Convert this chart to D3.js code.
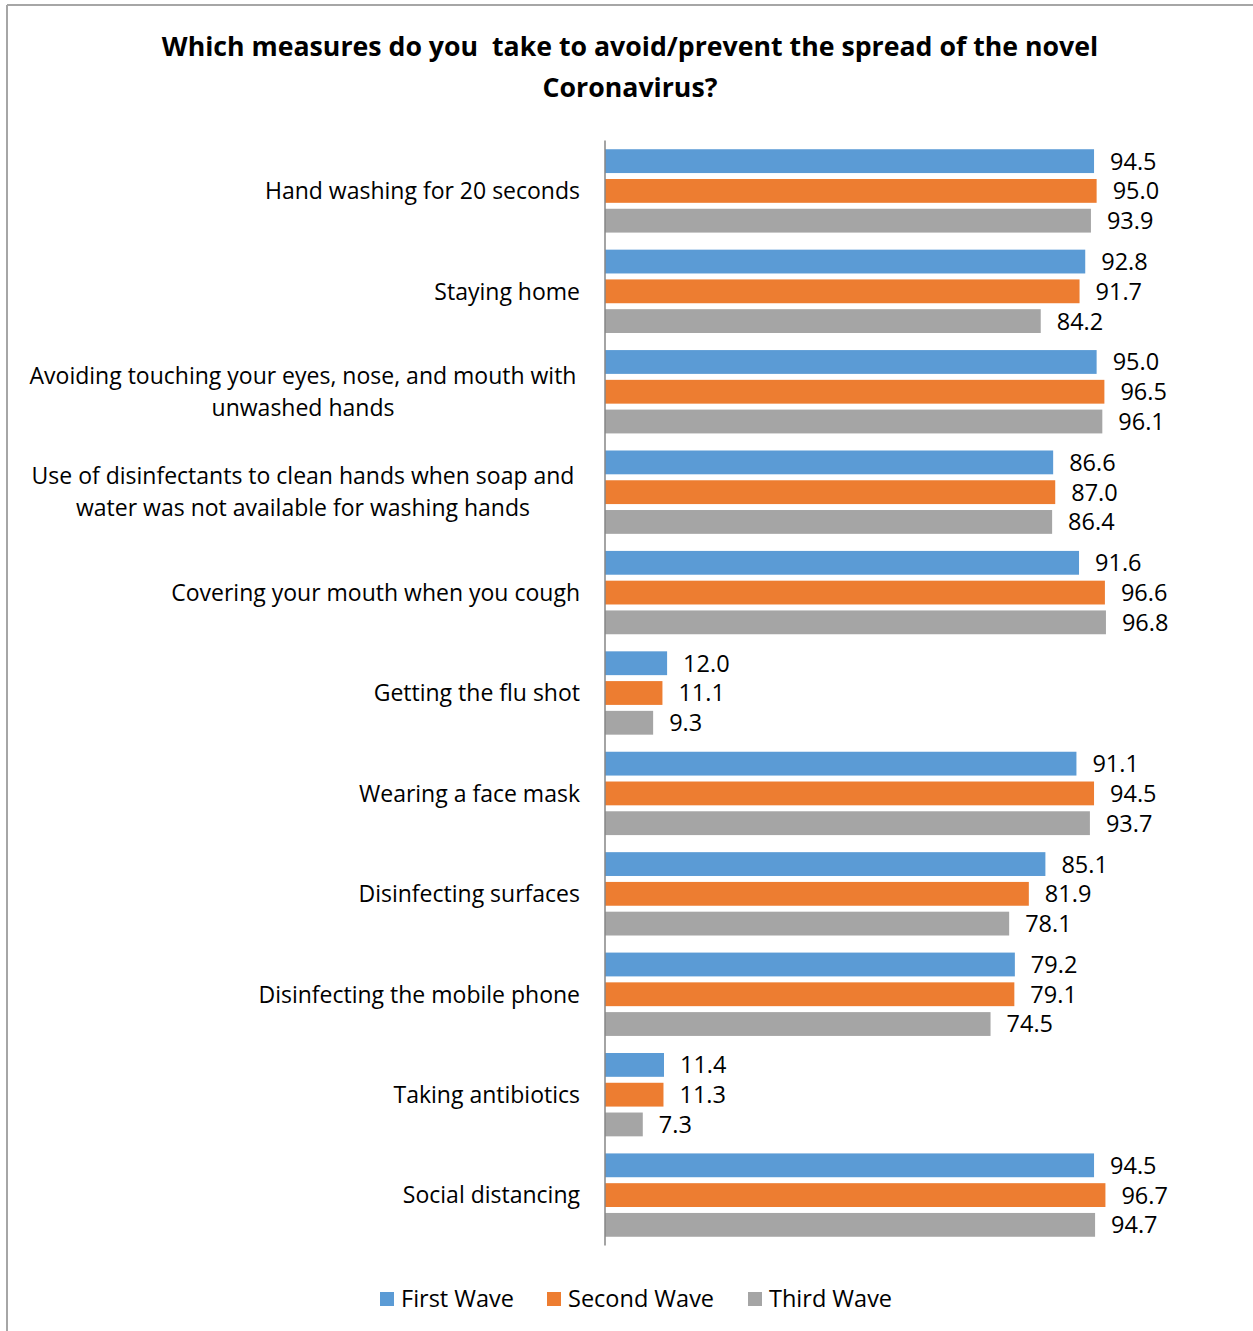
<!DOCTYPE html>
<html>
<head>
<meta charset="utf-8">
<script src="https://cdn.jsdelivr.net/npm/d3@7/dist/d3.min.js"></script>
<style>
  html, body { margin: 0; padding: 0; background: #fff; }
  svg { display: block; }
</style>
</head>
<body>
<svg id="chart" width="1253" height="1331"></svg>
<script>
// Survey measures, one group of three waves per measure
const categories = [
  ["Hand washing for 20 seconds"],
  ["Staying home"],
  ["Avoiding touching your eyes, nose, and mouth with", "unwashed hands"],
  ["Use of disinfectants to clean hands when soap and", "water was not available for washing hands"],
  ["Covering your mouth when you cough"],
  ["Getting the flu shot"],
  ["Wearing a face mask"],
  ["Disinfecting surfaces"],
  ["Disinfecting the mobile phone"],
  ["Taking antibiotics"],
  ["Social distancing"]
];
const seriesNames = ["First Wave", "Second Wave", "Third Wave"];
const firstWave  = [94.5, 92.8, 95.0, 86.6, 91.6, 12.0, 91.1, 85.1, 79.2, 11.4, 94.5];
const secondWave = [95.0, 91.7, 96.5, 87.0, 96.6, 11.1, 94.5, 81.9, 79.1, 11.3, 96.7];
const thirdWave  = [93.9, 84.2, 96.1, 86.4, 96.8, 9.3, 93.7, 78.1, 74.5, 7.3, 94.7];
const titleLines = ["Which measures do you  take to avoid/prevent the spread of the novel", "Coronavirus?"];

const colors = ["#5B9BD5", "#ED7D31", "#A5A5A5"];
const series = [firstWave, secondWave, thirdWave];
const font = "'Open Sans', 'Noto Sans', sans-serif";

const svg = d3.select("#chart");

// outer frame (top and left edges visible)
svg.append("line").attr("x1", 7).attr("x2", 1253).attr("y1", 5).attr("y2", 5)
  .attr("stroke", "#a6a6a6").attr("stroke-width", 2);
svg.append("line").attr("x1", 7).attr("x2", 7).attr("y1", 5).attr("y2", 1331)
  .attr("stroke", "#a6a6a6").attr("stroke-width", 2);

// title
const title = svg.append("text")
  .attr("text-anchor", "middle")
  .attr("font-family", font)
  .attr("font-weight", "bold")
  .attr("font-size", 26.7)
  .attr("fill", "#000")
  .style("white-space", "pre");
titleLines.forEach((t, i) => {
  title.append("tspan").attr("x", 630).attr("y", 56 + i * 41).text(t);
});

const x0 = 605;
const x = d3.scaleLinear().domain([0, 100]).range([x0, x0 + 517.5]);
const y = d3.scaleBand().domain(d3.range(categories.length)).range([140.5, 1245.5]).paddingInner(0.17).paddingOuter(0.087);
const yInner = d3.scaleBand().domain(d3.range(3)).range([0, y.bandwidth()]).paddingInner(0.2);

const groups = svg.append("g").selectAll("g")
  .data(categories)
  .join("g")
  .attr("transform", (d, i) => `translate(0,${y(i)})`);

groups.each(function(cat, i) {
  const g = d3.select(this);
  series.forEach((s, k) => {
    const v = s[i];
    g.append("rect")
      .attr("x", x(0))
      .attr("y", yInner(k))
      .attr("width", x(v) - x(0))
      .attr("height", yInner.bandwidth())
      .attr("fill", colors[k]);
    g.append("text")
      .attr("x", x(v) + 16)
      .attr("y", yInner(k) + yInner.bandwidth() / 2)
      .attr("dy", "0.36em")
      .attr("font-family", font)
      .attr("font-size", 23.5)
      .attr("fill", "#000")
      .text(v.toFixed(1));
  });
});

// category labels
const bandCenter = i => y(i) + y.bandwidth() / 2;
categories.forEach((lines, i) => {
  const lh = 32;
  const t = svg.append("text")
    .attr("font-family", font)
    .attr("font-size", 23)
    .attr("fill", "#000");
  lines.forEach((line, j) => {
    const cy = bandCenter(i) + (j - (lines.length - 1) / 2) * lh;
    t.append("tspan")
      .attr("x", lines.length > 1 ? 303 : 580)
      .attr("text-anchor", lines.length > 1 ? "middle" : "end")
      .attr("y", cy)
      .attr("dy", "0.36em")
      .text(line);
  });
});

// value axis line
svg.append("line").attr("x1", x0).attr("x2", x0).attr("y1", 140.5).attr("y2", 1245.5)
  .attr("stroke", "#868686").attr("stroke-width", 1.5);

// legend
const legendItems = [
  { name: seriesNames[0], sx: 380 },
  { name: seriesNames[1], sx: 547 },
  { name: seriesNames[2], sx: 748 }
];
legendItems.forEach((it, k) => {
  svg.append("rect").attr("x", it.sx).attr("y", 1292).attr("width", 14).attr("height", 14).attr("fill", colors[k]);
  svg.append("text").attr("x", it.sx + 21).attr("y", 1299).attr("dy", "0.36em")
    .attr("font-family", font).attr("font-size", 23.5).attr("fill", "#000").text(it.name);
});
</script>
</body>
</html>
